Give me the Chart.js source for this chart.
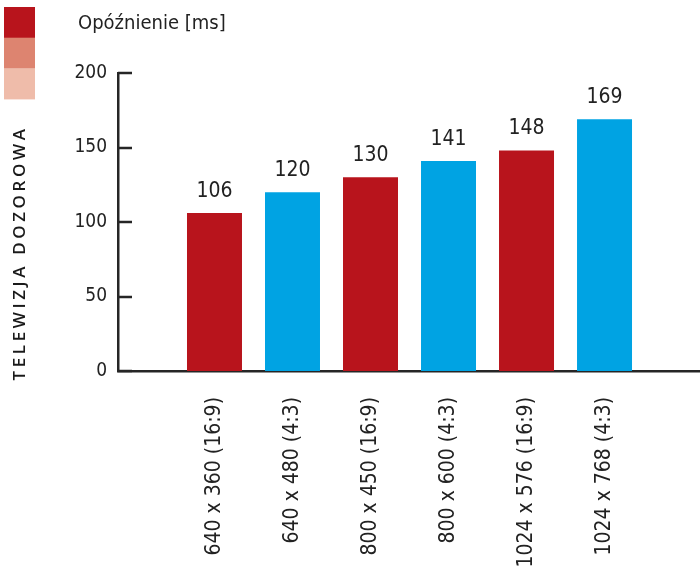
<!DOCTYPE html>
<html>
<head>
<meta charset="utf-8">
<script src="https://cdn.jsdelivr.net/npm/chart.js@4"></script>
<style>
  html, body { margin: 0; padding: 0; background: #fff; }
  #wrap { width: 700px; height: 568px; }
</style>
</head>
<body>
<div id="wrap"><canvas id="chart"></canvas></div>
<script>
// Data
const resolutions = ['640 x 360 (16:9)', '640 x 480 (4:3)', '800 x 450 (16:9)', '800 x 600 (4:3)', '1024 x 576 (16:9)', '1024 x 768 (4:3)'];
const latencyMs = [106, 120, 130, 141, 148, 169];
const yTicks = [0, 50, 100, 150, 200];
const titleText = 'Opóźnienie [ms]';
const sideText = 'TELEWIZJA DOZOROWA';

const RED = '#b8141c';
const BLUE = '#00a3e3';
const AXIS = '#262626';
const NARROW = "'Liberation Sans Narrow', 'DejaVu Sans Condensed', sans-serif";

// Bars sit on a linear x scale so the baseline can run past the last bar
const points = latencyMs.map((v, i) => ({ x: i, y: v }));

// Decorations: swatches, title, side caption, inward ticks, value labels
const decorPlugin = {
  id: 'decor',
  afterDraw(chart) {
    const ctx = chart.ctx;
    const yScale = chart.scales.y;
    const area = chart.chartArea;
    ctx.save();

    // colour swatches top-left
    const swatches = ['#b8141c', '#dd8470', '#efbcaa'];
    swatches.forEach((c, i) => {
      ctx.fillStyle = c;
      ctx.fillRect(4, 7 + i * 30.7, 31, 31);
    });

    // title
    ctx.fillStyle = '#222';
    ctx.font = '20px ' + NARROW;
    ctx.textAlign = 'left';
    ctx.textBaseline = 'alphabetic';
    ctx.fillText(titleText, 78, 29);

    // vertical caption
    ctx.save();
    ctx.translate(25, 253);
    ctx.rotate(-Math.PI / 2);
    ctx.font = "600 17px 'Open Sans', Lato, sans-serif";
    ctx.letterSpacing = '3.6px';
    ctx.fillStyle = '#1a1a1a';
    ctx.textAlign = 'center';
    ctx.textBaseline = 'alphabetic';
    ctx.fillText(sideText, 0, 0);
    ctx.restore();

    // inward tick marks on the y axis
    ctx.strokeStyle = AXIS;
    ctx.lineWidth = 2.5;
    yTicks.forEach(t => {
      const py = Math.round(yScale.getPixelForValue(t));
      ctx.beginPath();
      ctx.moveTo(area.left, py);
      ctx.lineTo(area.left + 14, py);
      ctx.stroke();
    });

    // value labels above bars
    const meta = chart.getDatasetMeta(0);
    ctx.fillStyle = '#222';
    ctx.font = '21px ' + NARROW;
    ctx.textAlign = 'center';
    ctx.textBaseline = 'alphabetic';
    meta.data.forEach((bar, i) => {
      ctx.fillText(String(latencyMs[i]), bar.x, bar.y - 16);
    });

    ctx.restore();
  }
};

new Chart(document.getElementById('chart'), {
  type: 'bar',
  data: {
    datasets: [{
      data: points,
      backgroundColor: latencyMs.map((v, i) => i % 2 === 0 ? RED : BLUE),
      borderWidth: 0,
      categoryPercentage: 1,
      barPercentage: 0.705
    }]
  },
  options: {
    responsive: true,
    maintainAspectRatio: false,
    animation: false,
    layout: { padding: { top: 73, left: 0, right: 0, bottom: 0 } },
    plugins: {
      legend: { display: false },
      tooltip: { enabled: false }
    },
    scales: {
      x: {
        type: 'linear',
        bounds: 'data',
        offset: false,
        min: -1.237,
        max: 6.224,
        grid: { display: false, drawTicks: false, offset: false },
        border: { display: true, color: AXIS, width: 2.5 },
        afterFit: (scale) => { scale.height = 197; },
        afterBuildTicks: (scale) => { scale.ticks = resolutions.map((r, i) => ({ value: i })); },
        ticks: {
          autoSkip: false,
          minRotation: 90,
          maxRotation: 90,
          padding: 26,
          color: '#222',
          font: { family: NARROW, size: 21 },
          callback: (v) => resolutions[v] ?? ''
        }
      },
      y: {
        min: 0,
        max: 200,
        grid: { display: false, drawTicks: false },
        border: { display: true, color: AXIS, width: 2.5 },
        afterFit: (scale) => { scale.width = 118; },
        afterBuildTicks: (scale) => { scale.ticks = yTicks.map(v => ({ value: v })); },
        ticks: {
          padding: 11,
          color: '#222',
          font: { family: NARROW, size: 19 }
        }
      }
    }
  },
  plugins: [decorPlugin]
});
</script>
</body>
</html>
